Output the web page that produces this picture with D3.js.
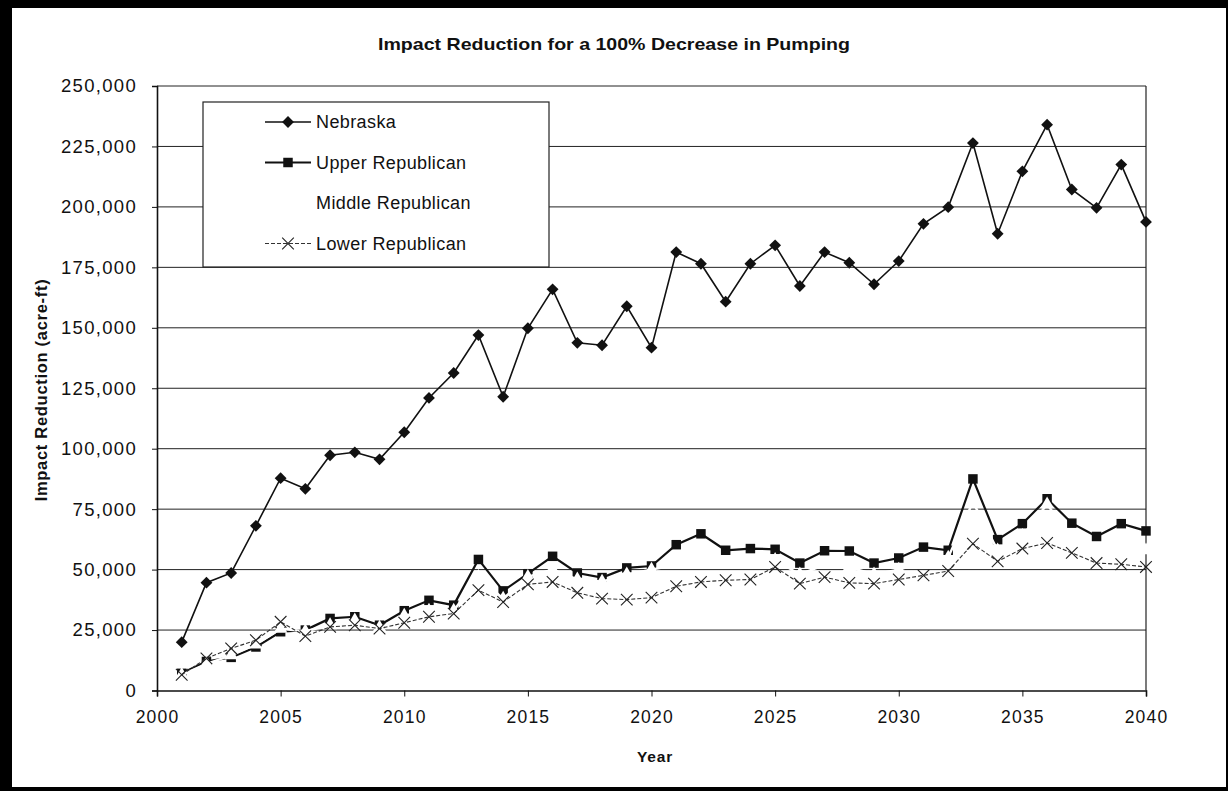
<!DOCTYPE html>
<html>
<head>
<meta charset="utf-8">
<script src="https://cdn.jsdelivr.net/npm/d3@7"></script>
<style>
  html, body { margin: 0; padding: 0; background: #000; }
  svg { display: block; }
  text { font-family: "Liberation Sans", Arial, sans-serif; fill: #111; }
</style>
</head>
<body>
<svg id="chart" width="1228" height="791"></svg>
<script>
// Years 2001-2040
const years = d3.range(2001, 2041);

// Impact reduction (acre-ft) by basin
const nebraska = [20000, 44600, 48600, 68100, 87800, 83400, 97300, 98500, 95600, 106800,
  121000, 131300, 147000, 121500, 149800, 165900, 143800, 142800, 158900, 141800,
  181300, 176500, 160800, 176500, 184100, 167300, 181300, 176900, 168000, 177600,
  193000, 199900, 226400, 188900, 214700, 234000, 207200, 199600, 217500, 193800];

const upperRepublican = [7100, 12000, 13700, 18000, 24300, 25000, 29800, 30500, 27000, 33000,
  37300, 35300, 54200, 41200, 48300, 55500, 48600, 46700, 50700, 51500,
  60300, 64800, 58000, 58700, 58400, 52700, 57800, 57700, 52700, 54800,
  59300, 58000, 87500, 62400, 69000, 79300, 69200, 63700, 69000, 66000];

const middleRepublican = [6500, 11000, 14500, 19000, 25500, 24500, 27000, 29000, 26000, 31000,
  33000, 33000, 47000, 38000, 47000, 50000, 46000, 45000, 48000, 50000,
  52000, 57000, 52000, 53000, 54000, 48000, 52000, 51000, 48000, 50000,
  53000, 55000, 78000, 58000, 64000, 77000, 63000, 58000, 60000, 58000];

const lowerRepublican = [6500, 13300, 17400, 20800, 28400, 22500, 26300, 27000, 25600, 28000,
  30500, 31800, 41500, 36600, 43900, 44900, 40400, 38000, 37600, 38400,
  43100, 44900, 45600, 45900, 51100, 44200, 46900, 44500, 44200, 45900,
  47600, 49400, 60700, 53400, 58700, 61000, 56900, 52700, 52200, 51100];

const seriesNames = ["Nebraska", "Upper Republican", "Middle Republican", "Lower Republican"];
const xTicks = [2000, 2005, 2010, 2015, 2020, 2025, 2030, 2035, 2040];
const yTicks = [0, 25000, 50000, 75000, 100000, 125000, 150000, 175000, 200000, 225000, 250000];

const svg = d3.select("#chart");

// page background (scanned sheet on dark surround)
svg.append("rect").attr("x", 0).attr("y", 0).attr("width", 1228).attr("height", 791).attr("fill", "#000");
svg.append("rect").attr("x", 12).attr("y", 8).attr("width", 1214).attr("height", 779).attr("fill", "#fff");

const x = d3.scaleLinear().domain([2000, 2040]).range([157, 1146]);
const y = d3.scaleLinear().domain([0, 250000]).range([690.5, 86]);

// horizontal gridlines
svg.append("g").selectAll("line").data(yTicks.filter(d => d > 0)).join("line")
  .attr("x1", x(2000)).attr("x2", x(2040))
  .attr("y1", d => y(d)).attr("y2", d => y(d))
  .attr("stroke", "#222").attr("stroke-width", 1);

// right plot border
svg.append("line").attr("x1", x(2040)).attr("x2", x(2040)).attr("y1", y(250000)).attr("y2", y(0))
  .attr("stroke", "#222").attr("stroke-width", 1.2);

// y axis
const yAxis = d3.axisLeft(y).tickValues(yTicks).tickFormat(d3.format(",")).tickSize(5).tickPadding(15);
const gy = svg.append("g").attr("transform", `translate(${x(2000)},0)`).call(yAxis);
gy.select(".domain").attr("stroke", "#111").attr("stroke-width", 1.6);
gy.selectAll(".tick line").attr("stroke", "#111");
gy.selectAll(".tick text").attr("font-size", 18.5).attr("letter-spacing", 1.3)
  .style("font-family", "'Liberation Sans', Arial, sans-serif").attr("fill", "#111");

// x axis
const xAxis = d3.axisBottom(x).tickValues(xTicks).tickFormat(d3.format("d")).tickSize(6).tickPadding(14);
const gx = svg.append("g").attr("transform", `translate(0,${y(0)})`).call(xAxis);
gx.select(".domain").attr("stroke", "#111").attr("stroke-width", 1.6);
gx.selectAll(".tick line").attr("stroke", "#111");
gx.selectAll(".tick text").attr("font-size", 17.5).attr("letter-spacing", 1.2)
  .style("font-family", "'Liberation Sans', Arial, sans-serif").attr("fill", "#111");

// series
const line = d3.line().x((d, i) => x(years[i])).y(d => y(d));
const styles = [
  { data: nebraska, stroke: "#111", width: 1.6, dash: null, symbol: d3.symbolSquare, rot: 45, size: 70, fill: "#111", mstroke: "none" },
  { data: upperRepublican, stroke: "#111", width: 2.2, dash: null, symbol: d3.symbolSquare, rot: 0, size: 90, fill: "#111", mstroke: "none" },
  { data: middleRepublican, stroke: "#fff", width: 2.4, dash: null, symbol: d3.symbolTriangle, rot: 0, size: 80, fill: "#fff", mstroke: "none" },
  { data: lowerRepublican, stroke: "#333", width: 1.1, dash: "4,2", symbol: d3.symbolTimes, rot: 0, size: 90, fill: "none", mstroke: "#222" }
];

styles.forEach(s => {
  const g = svg.append("g");
  g.append("path").datum(s.data).attr("d", line)
    .attr("fill", "none").attr("stroke", s.stroke).attr("stroke-width", s.width)
    .attr("stroke-dasharray", s.dash);
  g.selectAll("path.m").data(s.data).join("path").attr("class", "m")
    .attr("transform", (d, i) => `translate(${x(years[i])},${y(d)}) rotate(${s.rot})`)
    .attr("d", d3.symbol(s.symbol, s.size)())
    .attr("fill", s.fill).attr("stroke", s.mstroke).attr("stroke-width", 1.1);
});

// legend
const lg = svg.append("g");
lg.append("rect").attr("x", 203).attr("y", 102).attr("width", 346).attr("height", 165)
  .attr("fill", "#fff").attr("stroke", "#222").attr("stroke-width", 1.2);
seriesNames.forEach((name, i) => {
  const s = styles[i];
  const cy = 122 + i * 40.5;
  lg.append("line").attr("x1", 265).attr("x2", 311).attr("y1", cy).attr("y2", cy)
    .attr("stroke", s.stroke).attr("stroke-width", s.width).attr("stroke-dasharray", s.dash);
  lg.append("path").attr("transform", `translate(288,${cy}) rotate(${s.rot})`)
    .attr("d", d3.symbol(s.symbol, s.size)())
    .attr("fill", s.fill).attr("stroke", s.mstroke).attr("stroke-width", 1.1);
  lg.append("text").attr("x", 316).attr("y", cy).attr("dy", "0.35em")
    .attr("font-size", 18).attr("letter-spacing", 0.4).text(name);
});

// title and axis titles
svg.append("text").attr("x", 614).attr("y", 44).attr("dy", "0.35em").attr("text-anchor", "middle")
  .attr("font-size", 17).attr("font-weight", "bold").attr("textLength", 472).attr("lengthAdjust", "spacingAndGlyphs")
  .text("Impact Reduction for a 100% Decrease in Pumping");

svg.append("text").attr("x", 655).attr("y", 757).attr("dy", "0.35em").attr("text-anchor", "middle")
  .attr("font-size", 15.5).attr("font-weight", "bold").attr("letter-spacing", 0.8).text("Year");

svg.append("text").attr("transform", "translate(41,390) rotate(-90)").attr("dy", "0.35em")
  .attr("text-anchor", "middle").attr("font-size", 16.5).attr("font-weight", "bold").attr("letter-spacing", 0.7)
  .text("Impact Reduction (acre-ft)");
</script>
</body>
</html>
